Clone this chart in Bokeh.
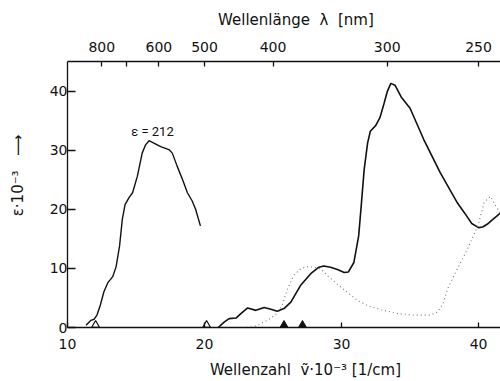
import math
from bokeh.plotting import figure
from bokeh.models import LinearAxis, FixedTicker, Range1d, Label, CustomJSTickFormatter
from bokeh.embed import file_html
from bokeh.resources import INLINE

# ---- data (wavenumber in 10^3 cm^-1, epsilon in 10^3) ----
vis_x = [11.35, 11.7, 11.95, 12.15, 12.4, 12.65, 12.95, 13.3, 13.55, 13.8, 14.0, 14.2,
         14.5, 14.75, 15.1, 15.45, 15.7, 15.95, 16.3, 16.8, 17.4, 17.65, 18.0, 18.4,
         18.75, 19.1, 19.35, 19.7]
vis_y = [0.4, 1.2, 1.4, 2.1, 3.8, 6.0, 7.6, 8.6, 10.3, 13.8, 18.3, 20.8,
         22.0, 22.8, 25.6, 29.5, 30.9, 31.6, 31.2, 30.6, 30.1, 29.5, 27.3, 25.0,
         22.8, 21.4, 20.0, 17.2]

main_x = [21.0, 21.45, 21.8, 22.3, 22.65, 23.15, 23.75, 24.35, 24.85, 25.3, 25.8, 26.3,
          27.0, 27.75, 28.35, 28.7, 29.2, 29.7, 30.2, 30.5, 30.9, 31.25, 31.45, 31.65,
          31.9, 32.1, 32.5, 32.8, 33.1, 33.35, 33.6, 33.9, 34.35, 35.0, 36.0, 37.2,
          38.45, 39.0, 39.5, 40.0, 40.3, 40.65, 41.0, 41.35, 41.7]
main_y = [0.0, 0.95, 1.5, 1.6, 2.35, 3.3, 2.9, 3.4, 3.1, 2.75, 3.2, 4.3,
          7.1, 9.1, 10.2, 10.4, 10.2, 9.8, 9.3, 9.4, 11.0, 15.5, 21.0, 26.7,
          31.2, 33.2, 34.2, 35.5, 37.9, 40.0, 41.3, 41.0, 39.0, 37.1, 31.8, 26.2,
          21.1, 19.3, 17.6, 16.9, 17.0, 17.5, 18.2, 18.9, 19.6]

dot_x = [22.8, 23.5, 23.9, 24.8, 25.4, 25.7, 26.05, 26.5, 27.0, 27.45, 28.0, 28.5,
         28.95, 29.6, 30.4, 31.15, 31.9, 32.9, 34.1, 35.3, 36.5, 37.0, 37.4, 37.75,
         38.45, 39.2, 39.95, 40.4, 40.85, 41.25, 41.7]
dot_y = [0.0, 0.1, 0.4, 1.5, 2.6, 4.0, 6.5, 8.8, 9.9, 10.3, 10.2, 9.9,
         8.8, 7.5, 6.0, 4.6, 3.7, 3.0, 2.35, 2.1, 2.1, 2.6, 4.0, 6.6,
         9.9, 13.3, 17.2, 21.1, 22.2, 20.6, 18.9]

open_marks = [12.05, 20.15]
filled_marks = [25.8, 27.15]

x_ticks = [10, 20, 30, 40]
y_ticks = [0, 10, 20, 30, 40]
wl_ticks = [800, 700, 600, 500, 400, 300, 250]
wl_labeled = [800, 600, 500, 400, 300, 250]

FONT = "DejaVu Sans"
INK = "#111111"
NB = "\u00a0"

p = figure(width=500, height=381,
           x_range=Range1d(10.0, 41.6), y_range=Range1d(0, 45),
           output_backend="svg", toolbar_location=None,
           min_border_left=67, min_border_right=0, min_border_top=61, min_border_bottom=52,
           background_fill_color="white", border_fill_color="white")
p.outline_line_color = None
p.xgrid.visible = False
p.ygrid.visible = False

def style_axis(ax, tin):
    ax.axis_line_color = INK
    ax.axis_line_width = 1.3
    ax.major_tick_line_color = INK
    ax.major_tick_line_width = 1.3
    ax.major_tick_in = tin
    ax.major_tick_out = 0
    ax.minor_tick_line_color = None
    ax.major_label_text_font = FONT
    ax.major_label_text_font_size = "14px"
    ax.major_label_text_color = INK
    ax.axis_label_text_font = FONT
    ax.axis_label_text_font_size = "15px"
    ax.axis_label_text_font_style = "normal"
    ax.axis_label_text_color = INK

xa = p.xaxis[0]
xa.ticker = FixedTicker(ticks=x_ticks)
style_axis(xa, 5)
xa.major_label_standoff = 11
xa.axis_label = NB * 9 + "Wellenzahl" + NB * 2 + "\u1e7d\u00b710\u207b\u00b3" + NB + "[1/cm]"
xa.axis_label_standoff = 9

ya = p.yaxis[0]
ya.ticker = FixedTicker(ticks=y_ticks)
style_axis(ya, 8)
ya.major_label_standoff = 0
ya.axis_label = NB * 8 + "\u03b5\u00b710\u207b\u00b3" + NB * 3 + "\u27f6"
ya.axis_label_standoff = 20

top = LinearAxis(ticker=FixedTicker(ticks=[1e4 / w for w in wl_ticks]),
                 formatter=CustomJSTickFormatter(args=dict(lab=wl_labeled), code="""
                     const w = Math.round(1e4 / tick);
                     return lab.includes(w) ? String(w) : "";
                 """))
style_axis(top, 5)
top.major_label_standoff = 10
top.axis_label = NB * 5 + "Wellenl\u00e4nge" + NB * 2 + "\u03bb" + NB * 2 + "[nm]"
top.axis_label_standoff = 10
p.add_layout(top, "above")

p.line(vis_x, vis_y, line_color=INK, line_width=1.4)
p.line(main_x, main_y, line_color=INK, line_width=1.6)
p.line(dot_x, dot_y, line_color="#777777", line_width=1.1, line_dash="1 3")

mark_lift = 0.4
p.scatter(open_marks, [mark_lift] * len(open_marks), marker="triangle", size=8,
          fill_color="white", line_color=INK, line_width=1.2)
p.scatter(filled_marks, [mark_lift] * len(filled_marks), marker="triangle", size=8,
          fill_color=INK, line_color=INK)

p.add_layout(Label(x=16.2, y=33.2, text="\u03b5 = 212", text_align="center",
                   text_baseline="middle", text_font="Roboto", text_font_size="13px",
                   text_color=INK))

open("out.html", "w").write(file_html(p, INLINE))
